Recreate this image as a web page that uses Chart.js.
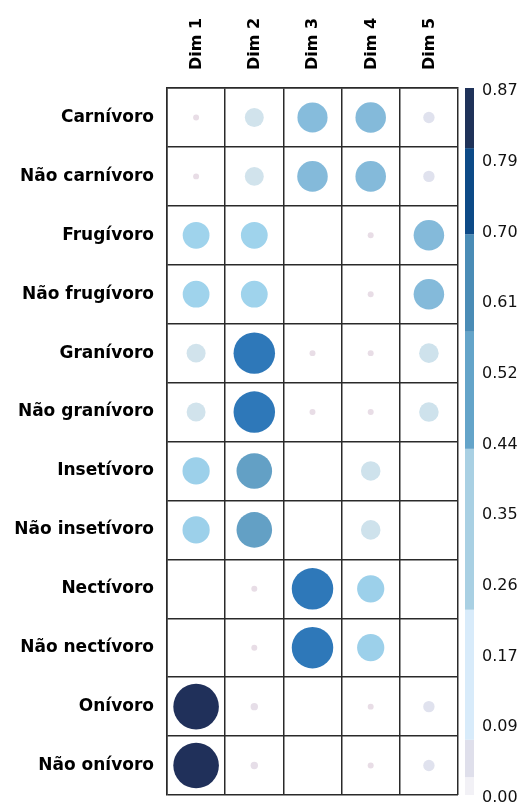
<!DOCTYPE html>
<html>
<head>
<meta charset="utf-8">
<script src="https://cdn.jsdelivr.net/npm/chart.js@4.4.0/dist/chart.umd.min.js"></script>
<style>
  html, body { margin: 0; padding: 0; background: #fff; }
  #wrap { width: 522px; height: 805px; }
</style>
</head>
<body>
<div id="wrap"><canvas id="corrChart" width="522" height="805"></canvas></div>
<script>
// categories (rows) and dimensions (columns)
const categories = ['Carnívoro', 'Não carnívoro', 'Frugívoro', 'Não frugívoro', 'Granívoro', 'Não granívoro',
    'Insetívoro', 'Não insetívoro', 'Nectívoro', 'Não nectívoro', 'Onívoro', 'Não onívoro'];
const dims = ['Dim 1', 'Dim 2', 'Dim 3', 'Dim 4', 'Dim 5'];

const dim1 = [0.015, 0.015, 0.30, 0.30, 0.15, 0.15, 0.31, 0.31, 0, 0, 0.87, 0.87];
const dim2 = [0.15, 0.15, 0.30, 0.30, 0.72, 0.72, 0.53, 0.53, 0.015, 0.015, 0.023, 0.023];
const dim3 = [0.38, 0.39, 0, 0, 0.015, 0.015, 0, 0, 0.72, 0.72, 0, 0];
const dim4 = [0.39, 0.39, 0.015, 0.015, 0.015, 0.015, 0.16, 0.16, 0.31, 0.31, 0.015, 0.015];
const dim5 = [0.054, 0.054, 0.39, 0.39, 0.16, 0.16, 0, 0, 0, 0, 0.054, 0.054];
const dimValues = [dim1, dim2, dim3, dim4, dim5];

// colour bar tick labels
const colorTicks = ['0.00', '0.09', '0.17', '0.26', '0.35', '0.44', '0.52', '0.61', '0.70', '0.79', '0.87'];
const maxValue = 0.87;

// colour bar bins
const barBreaks = [0, 0.022, 0.068, 0.228, 0.426, 0.570, 0.690, 0.796, 0.87];
const barColors = ['#f2f1f6', '#dfdfeb', '#d8ebfa', '#a9d0e3', '#64a4c9', '#4a8cb6', '#0d4a87', '#1f3259'];

// circle colour stops
const circleStops = [0.015, 0.054, 0.15, 0.30, 0.38, 0.53, 0.72, 0.87];
const circleColors = ['#e8dde6', '#e0e2ee', '#d1e3ec', '#9fd3ec', '#86bcdc', '#63a0c5', '#2e78b9', '#20305a'];

const maxRadius = 22.8;
const fontFamily = '"DejaVu Sans", sans-serif';

function hexToRgb(h) {
    return [parseInt(h.slice(1, 3), 16), parseInt(h.slice(3, 5), 16), parseInt(h.slice(5, 7), 16)];
}
function circleColor(v) {
    if (v <= circleStops[0]) return circleColors[0];
    for (let i = 1; i < circleStops.length; i++) {
        if (v <= circleStops[i]) {
            const t = (v - circleStops[i - 1]) / (circleStops[i] - circleStops[i - 1]);
            const a = hexToRgb(circleColors[i - 1]);
            const b = hexToRgb(circleColors[i]);
            const c = a.map((x, k) => Math.round(x + (b[k] - x) * t));
            return `rgb(${c[0]}, ${c[1]}, ${c[2]})`;
        }
    }
    return circleColors[circleColors.length - 1];
}

let datasets = dims.map((d, j) => ({
    label: d,
    data: categories
        .map((cat, i) => ({ x: d, y: cat, v: dimValues[j][i], r: maxRadius * Math.sqrt(dimValues[j][i] / maxValue) }))
        .filter(p => p.v > 0),
    backgroundColor: ctx => circleColor(ctx.raw.v),
    borderWidth: 0,
    hoverBorderWidth: 0
}));

// draws the stepped colour bar next to the right scale
const colorBarPlugin = {
    id: 'colorBar',
    afterDraw(chart) {
        const s = chart.scales.c;
        const ctx = chart.ctx;
        ctx.save();
        for (let i = 0; i < barColors.length; i++) {
            const yTop = s.getPixelForValue(barBreaks[i + 1]);
            const yBot = s.getPixelForValue(barBreaks[i]);
            ctx.fillStyle = barColors[i];
            ctx.fillRect(s.left + 7, yTop, 9, yBot - yTop);
        }
        ctx.restore();
    }
};

// keep tick labels from pushing the plot area around
function noPadding(s) {
    s.paddingTop = 0;
    s.paddingBottom = 0;
    s.paddingLeft = 0;
    s.paddingRight = 0;
}

const gridColor = '#2a2a2a';

const config = {
    type: 'bubble',
    data: { datasets: datasets },
    options: {
        responsive: false,
        animation: false,
        layout: { autoPadding: false, padding: { top: 0, left: 0, right: 0, bottom: 10 } },
        plugins: {
            legend: { display: false },
            tooltip: { enabled: false }
        },
        scales: {
            x: {
                type: 'category',
                labels: dims,
                position: 'top',
                offset: true,
                grid: { offset: true, color: gridColor, lineWidth: 1.5, drawTicks: false },
                border: { color: gridColor, width: 1.5 },
                ticks: {
                    minRotation: 90, maxRotation: 90, padding: 18, labelOffset: 20, color: '#000',
                    font: { family: fontFamily, size: 16, weight: 'bold' }
                },
                afterFit: s => { s.height = 88; noPadding(s); }
            },
            y: {
                type: 'category',
                labels: categories,
                offset: true,
                grid: { offset: true, color: gridColor, lineWidth: 1.5, drawTicks: false },
                border: { color: gridColor, width: 1.5 },
                ticks: {
                    padding: 13, color: '#000',
                    font: { family: fontFamily, size: 17, weight: 'bold' }
                },
                afterFit: s => { s.width = 167; noPadding(s); }
            },
            c: {
                type: 'linear',
                position: 'right',
                min: 0,
                max: maxValue,
                grid: { display: false, drawTicks: false },
                border: { display: false },
                afterBuildTicks: s => {
                    s.ticks = colorTicks.map((t, i) => ({ value: i * maxValue / (colorTicks.length - 1) }));
                },
                ticks: {
                    autoSkip: false, padding: 24, labelOffset: 3, color: '#111',
                    font: { family: fontFamily, size: 16 },
                    callback: (v, i) => colorTicks[i]
                },
                afterFit: s => { s.width = 64; noPadding(s); }
            }
        }
    },
    plugins: [colorBarPlugin]
};

var corrChart = new Chart(document.getElementById('corrChart'), config);
</script>
</body>
</html>
